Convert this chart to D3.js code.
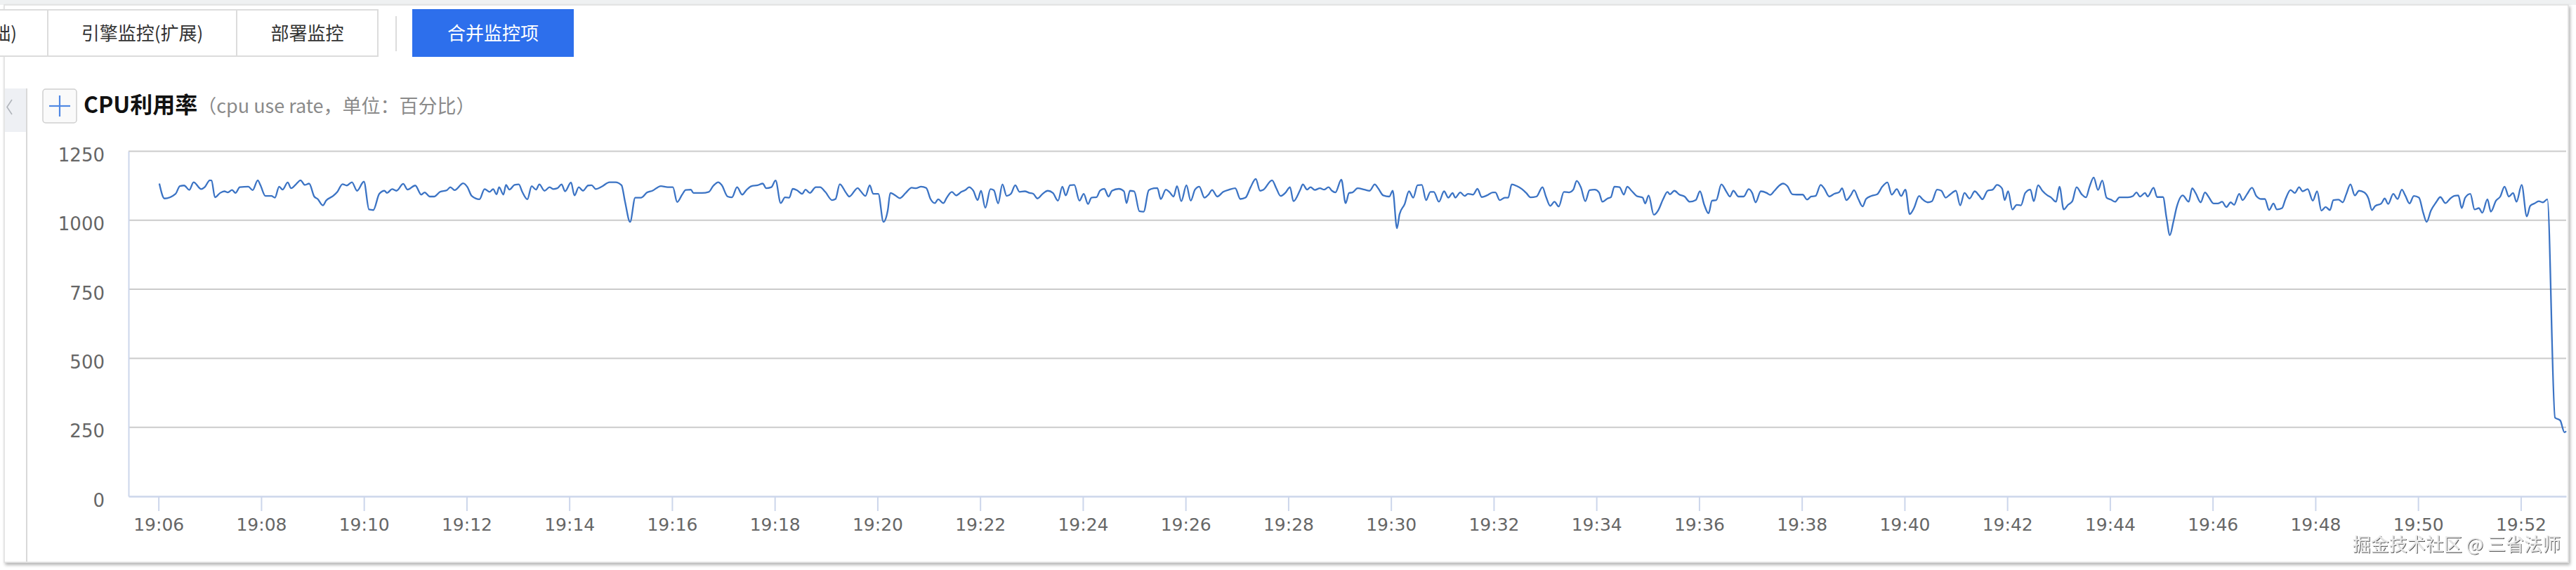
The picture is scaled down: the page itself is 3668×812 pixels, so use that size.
<!DOCTYPE html>
<html><head><meta charset="utf-8">
<script src="https://cdn.jsdelivr.net/npm/d3@7"></script>
<style>
html,body{margin:0;padding:0;background:#fff;}
svg{display:block;}
</style></head>
<body>
<svg id="chart" width="3668" height="812"></svg>
<script>
// ---------- data ----------
const tabLabels = ["引擎监控(基础)", "引擎监控(扩展)", "部署监控"];
const actionLabel = "合并监控项";
const chartTitle = "CPU利用率";
const chartSubtitle = "（cpu use rate，单位：百分比）";
const watermarkText = "掘金技术社区 @ 三省法师";
const yTicks = [0, 250, 500, 750, 1000, 1250];
const xTickLabels = ["19:06","19:08","19:10","19:12","19:14","19:16","19:18","19:20","19:22","19:24","19:26","19:28",
  "19:30","19:32","19:34","19:36","19:38","19:40","19:42","19:44","19:46","19:48","19:50","19:52"];
const xDomain = ["19:05:25", "19:52:53"];
const startClock = "19:06:00";
// [seconds after startClock, cpu use rate]
const cpuPoints = [
[1,1133],[7,1079],[20,1096],[25,1124],[30,1126],[36,1110],[41,1138],[50,1113],[54,1120],[60,1145],
[62,1144],[66,1083],[72,1099],[77,1105],[81,1101],[86,1110],[90,1099],[95,1120],[105,1122],[110,1109],
[116,1145],[119,1128],[125,1088],[132,1088],[136,1082],[141,1122],[145,1111],[151,1137],[155,1116],[160,1128],
[166,1145],[171,1128],[176,1133],[182,1086],[186,1077],[192,1054],[196,1072],[204,1088],[209,1103],[215,1131],
[220,1126],[226,1138],[232,1107],[240,1140],[246,1039],[251,1037],[258,1096],[264,1107],[267,1099],[273,1113],
[278,1107],[286,1132],[291,1111],[300,1126],[307,1093],[311,1101],[317,1086],[322,1086],[329,1103],[337,1109],
[341,1120],[346,1109],[356,1134],[361,1120],[366,1088],[375,1076],[381,1113],[387,1103],[391,1113],[395,1094],
[398,1120],[403,1093],[406,1128],[410,1111],[416,1128],[421,1130],[425,1103],[431,1076],[436,1124],[441,1111],
[445,1130],[451,1107],[457,1120],[461,1113],[466,1116],[471,1130],[475,1105],[482,1137],[486,1090],[491,1120],
[496,1107],[502,1126],[506,1127],[511,1113],[518,1122],[527,1138],[534,1138],[541,1127],[545,1069],[551,994],
[557,1082],[564,1082],[571,1101],[577,1107],[587,1124],[595,1120],[601,1120],[606,1066],[612,1094],[616,1110],
[622,1111],[625,1099],[635,1099],[643,1103],[648,1124],[654,1138],[658,1128],[665,1086],[670,1083],[676,1120],
[682,1093],[687,1110],[693,1124],[700,1127],[706,1133],[710,1116],[716,1120],[721,1144],[727,1062],[732,1083],
[737,1082],[741,1114],[746,1109],[752,1096],[756,1111],[761,1099],[768,1120],[773,1120],[779,1103],[787,1073],
[791,1077],[796,1131],[803,1101],[807,1086],[817,1117],[820,1107],[826,1088],[831,1127],[835,1096],[841,1096],
[847,994],[852,1035],[855,1099],[861,1090],[866,1080],[873,1099],[880,1118],[885,1116],[891,1122],[897,1117],
[902,1077],[907,1062],[911,1076],[917,1062],[921,1082],[927,1103],[932,1090],[938,1103],[943,1110],[947,1120],
[952,1107],[957,1073],[961,1107],[966,1045],[972,1113],[976,1109],[981,1061],[986,1130],[991,1088],[996,1096],
[1001,1127],[1006,1103],[1012,1105],[1018,1099],[1022,1096],[1027,1079],[1033,1096],[1039,1107],[1045,1099],[1051,1071],
[1056,1122],[1060,1090],[1065,1127],[1070,1128],[1076,1071],[1081,1096],[1086,1059],[1090,1082],[1096,1084],[1100,1107],
[1105,1114],[1110,1086],[1114,1107],[1122,1114],[1128,1105],[1131,1062],[1135,1107],[1140,1105],[1146,1033],[1151,1031],
[1157,1109],[1163,1116],[1167,1117],[1171,1077],[1177,1111],[1181,1103],[1186,1086],[1190,1124],[1195,1069],[1201,1127],
[1206,1071],[1211,1111],[1216,1122],[1222,1082],[1227,1094],[1231,1110],[1237,1086],[1244,1103],[1251,1111],[1258,1116],
[1264,1077],[1270,1082],[1276,1120],[1282,1150],[1287,1107],[1291,1111],[1301,1145],[1306,1116],[1311,1088],[1317,1101],
[1322,1120],[1326,1069],[1334,1111],[1337,1130],[1342,1111],[1346,1120],[1351,1110],[1357,1116],[1362,1111],[1367,1120],
[1371,1107],[1375,1101],[1382,1147],[1387,1062],[1391,1099],[1395,1101],[1401,1116],[1409,1111],[1415,1107],
[1421,1130],[1425,1116],[1431,1090],[1438,1086],[1442,1107],[1447,971],[1450,1022],[1456,1059],[1461,1105],[1466,1082],
[1471,1127],[1476,1128],[1481,1073],[1486,1103],[1490,1103],[1496,1067],[1502,1105],[1507,1082],[1512,1099],[1515,1082],
[1521,1101],[1526,1088],[1530,1096],[1536,1093],[1541,1114],[1546,1084],[1552,1090],[1559,1101],[1562,1101],[1567,1073],
[1573,1082],[1577,1082],[1581,1130],[1587,1124],[1593,1113],[1598,1099],[1603,1083],[1610,1086],[1617,1120],[1621,1086],
[1626,1052],[1631,1067],[1636,1050],[1642,1103],[1648,1101],[1653,1111],[1657,1143],[1662,1118],[1667,1069],[1672,1109],
[1678,1111],[1683,1101],[1687,1067],[1693,1079],[1697,1084],[1701,1122],[1707,1120],[1712,1093],[1716,1122],[1721,1107],
[1727,1088],[1734,1082],[1737,1061],[1741,1090],[1747,1020],[1752,1035],[1758,1077],[1763,1103],[1766,1094],[1771,1107],
[1777,1093],[1783,1086],[1789,1067],[1796,1073],[1801,1105],[1806,1056],[1811,1025],[1815,1071],[1820,1073],[1826,1130],
[1832,1103],[1836,1086],[1840,1107],[1846,1086],[1852,1086],[1858,1113],[1862,1099],[1866,1065],[1872,1105],[1879,1099],
[1883,1092],[1888,1107],[1893,1124],[1898,1133],[1903,1124],[1909,1094],[1914,1093],[1921,1093],[1926,1075],[1931,1086],
[1936,1088],[1942,1128],[1946,1116],[1952,1086],[1958,1096],[1964,1103],[1967,1116],[1972,1073],[1977,1090],[1981,1109],
[1986,1077],[1991,1050],[1995,1077],[2001,1088],[2008,1094],[2014,1122],[2020,1137],[2025,1093],[2031,1113],[2036,1088],
[2041,1111],[2046,1022],[2051,1044],[2057,1088],[2061,1076],[2067,1065],[2072,1069],[2078,1111],[2083,1107],[2088,1082],
[2093,1093],[2100,1107],[2105,1054],[2110,1099],[2116,1079],[2122,1105],[2127,1090],[2131,1076],[2137,1107],[2143,1111],
[2148,1128],[2154,1115],[2157,1073],[2161,1105],[2166,1039],[2171,1056],[2176,1054],[2181,1099],[2187,1111],[2191,1069],
[2196,1127],[2201,1107],[2207,1090],[2211,1083],[2217,1067],[2221,1122],[2226,1039],[2231,1056],[2236,1069],[2241,1120],
[2247,1094],[2252,1083],[2256,1120],[2261,1155],[2266,1110],[2271,1144],[2276,1082],[2281,1075],[2286,1067],[2291,1083],
[2301,1083],[2307,1088],[2311,1101],[2315,1086],[2321,1099],[2324,1086],[2331,1118],[2335,1084],[2342,1084],[2346,1010],
[2350,946],[2354,993],[2358,1048],[2365,1090],[2372,1067],[2376,1116],[2380,1099],[2386,1065],[2391,1101],[2395,1086],
[2401,1061],[2406,1061],[2411,1067],[2416,1048],[2421,1065],[2425,1056],[2431,1096],[2435,1073],[2440,1094],[2446,1118],
[2451,1088],[2457,1077],[2461,1077],[2466,1037],[2471,1061],[2475,1039],[2481,1044],[2485,1076],[2491,1110],[2496,1099],
[2501,1120],[2505,1105],[2511,1113],[2517,1071],[2522,1105],[2527,1035],[2532,1048],[2537,1037],[2541,1073],[2547,1075],
[2552,1065],[2556,1094],[2561,1130],[2566,1090],[2571,1107],[2577,1101],[2582,1079],[2586,1037],[2590,1052],[2597,1061],
[2601,1079],[2605,1059],[2611,1096],[2616,1077],[2621,1111],[2625,1090],[2630,1061],[2635,1088],[2641,1082],[2646,1027],
[2650,994],[2655,1035],[2661,1065],[2666,1084],[2672,1062],[2677,1077],[2682,1088],[2687,1090],[2691,1044],[2695,1082],
[2701,1096],[2706,1039],[2711,1044],[2715,1027],[2721,1076],[2725,1031],[2731,1071],[2736,1086],[2741,1122],[2746,1086],
[2751,1099],[2755,1067],[2761,1128],[2767,1014],[2771,1052],[2776,1061],[2781,1069],[2786,1065],[2791,1076],
[2800,285],[2806,275],[2811,232],[2813,236]
];

// ---------- helpers ----------
function parseClock(s){ const p = s.split(":").map(Number); return new Date(2024,0,1,p[0],p[1],p[2]||0); }
const t0 = parseClock(startClock);
const series = cpuPoints.map(d => ({t: new Date(t0.getTime() + d[0]*1000), v: d[1]}));

const W = 3668, H = 812;
const svg = d3.select("#chart");
const CJK = "'Noto Sans CJK SC','Noto Sans',sans-serif";

const defs = svg.append("defs");
const flt = defs.append("filter").attr("id","cardShadow").attr("x","-1%").attr("y","-2%").attr("width","102%").attr("height","104%");
flt.append("feDropShadow").attr("dx",2).attr("dy",3).attr("stdDeviation",2).attr("flood-color","#000").attr("flood-opacity",0.3);
const wmf = defs.append("filter").attr("id","wmShadow").attr("x","-5%").attr("y","-20%").attr("width","110%").attr("height","140%");
wmf.append("feDropShadow").attr("dx",1).attr("dy",1).attr("stdDeviation",0.7).attr("flood-color","#3a3a3a").attr("flood-opacity",0.85);

// page band + card
svg.append("rect").attr("x",0).attr("y",0).attr("width",W).attr("height",H).attr("fill","#ffffff");
svg.append("rect").attr("x",0).attr("y",0).attr("width",W).attr("height",7).attr("fill","#eff1f2");
svg.append("rect").attr("x",6).attr("y",7).attr("width",3651).attr("height",794)
  .attr("fill","#fff").attr("stroke","#dedede").attr("stroke-width",1.5).attr("filter","url(#cardShadow)");

// ---------- tabs ----------
const tabEdges = [-220, 68, 337, 538];
const tabG = svg.append("g");
tabLabels.forEach((lab, i) => {
  const x0 = tabEdges[i], x1 = tabEdges[i+1];
  tabG.append("rect").attr("x",x0).attr("y",14).attr("width",x1-x0).attr("height",66)
    .attr("fill","#fff").attr("stroke","#dcdcdc").attr("stroke-width",2);
  const tx = tabG.append("text").attr("y",57).attr("font-family",CJK).attr("font-size",26).attr("fill","#333").text(lab);
  if (i === 0) tx.attr("x",24).attr("text-anchor","end");
  else tx.attr("x",(x0+x1)/2).attr("text-anchor","middle");
});
tabG.append("line").attr("x1",564).attr("x2",564).attr("y1",23).attr("y2",73).attr("stroke","#dcdcdc").attr("stroke-width",2);
tabG.append("rect").attr("x",587).attr("y",13).attr("width",230).attr("height",68).attr("fill","#2d6fec");
tabG.append("text").attr("x",702).attr("y",57).attr("text-anchor","middle").attr("font-family",CJK)
  .attr("font-size",26).attr("fill","#fff").text(actionLabel);

// ---------- left collapse panel ----------
svg.append("rect").attr("x",7).attr("y",126).attr("width",31).attr("height",62).attr("fill","#eef0f4");
svg.append("path").attr("d","M17,142 L10,152.5 L17,163").attr("fill","none").attr("stroke","#b0b4ba").attr("stroke-width",1.6);
svg.append("line").attr("x1",38).attr("x2",38).attr("y1",126).attr("y2",800).attr("stroke","#d9d9d9").attr("stroke-width",2);

// ---------- title ----------
svg.append("rect").attr("x",61).attr("y",127).attr("width",48).attr("height",48).attr("rx",4)
  .attr("fill","#fafafa").attr("stroke","#cfcfcf").attr("stroke-width",1.5);
svg.append("line").attr("x1",70).attr("x2",100).attr("y1",151).attr("y2",151).attr("stroke","#4f88e3").attr("stroke-width",2.2);
svg.append("line").attr("x1",85).attr("x2",85).attr("y1",136).attr("y2",166).attr("stroke","#4f88e3").attr("stroke-width",2.2);
const title = svg.append("text").attr("x",119).attr("y",161).attr("font-family",CJK);
title.append("tspan").attr("font-size",32).attr("font-weight","bold").attr("fill","#111").text(chartTitle);
title.append("tspan").attr("font-size",27).attr("fill","#8a8a8a").text(chartSubtitle);

// ---------- plot ----------
const plotL = 183, plotR = 3654, plotT = 215.5, plotB = 707;
const x = d3.scaleTime().domain(xDomain.map(parseClock)).range([plotL, plotR]);
const y = d3.scaleLinear().domain([0, 1250]).range([plotB, plotT]);

// grid lines
svg.append("g").selectAll("line").data(yTicks.filter(v => v > 0)).join("line")
  .attr("x1",plotL).attr("x2",plotR).attr("y1",d=>y(d)).attr("y2",d=>y(d))
  .attr("stroke","#cbcbcb").attr("stroke-width",2);

// y axis
const gy = svg.append("g").attr("transform",`translate(${plotL},0)`)
  .call(d3.axisLeft(y).tickValues(yTicks).tickSize(0).tickSizeOuter(0).tickFormat(d3.format("d")));
gy.select(".domain").attr("stroke","#ccd6eb").attr("stroke-width",2);
gy.selectAll(".tick text").attr("x",-34).attr("y",14).attr("dy",0)
  .attr("font-family","'DejaVu Sans',sans-serif").attr("font-size",26).attr("fill","#666");

// x axis
const gx = svg.append("g").attr("transform",`translate(0,${plotB})`)
  .call(d3.axisBottom(x).tickValues(xTickLabels.map(parseClock)).tickFormat(d3.timeFormat("%H:%M")).tickSize(21).tickSizeOuter(0));
gx.select(".domain").attr("stroke","#ccd6eb").attr("stroke-width",2.5);
gx.selectAll(".tick line").attr("stroke","#ccd6eb").attr("stroke-width",2);
gx.selectAll(".tick text").attr("y",49).attr("dy",0)
  .attr("font-family","'DejaVu Sans',sans-serif").attr("font-size",25).attr("fill","#666");

// line
const line = d3.line().x(d => x(d.t)).y(d => y(d.v)).curve(d3.curveMonotoneX);
svg.append("path").datum(series).attr("d",line)
  .attr("fill","none").attr("stroke","#3b73c4").attr("stroke-width",2.3).attr("stroke-linejoin","round");

// watermark
svg.append("text").attr("x",3646).attr("y",785).attr("text-anchor","end").attr("font-family",CJK)
  .attr("font-size",26).attr("fill","#e9e9e9").attr("filter","url(#wmShadow)").text(watermarkText);
</script>
</body></html>
